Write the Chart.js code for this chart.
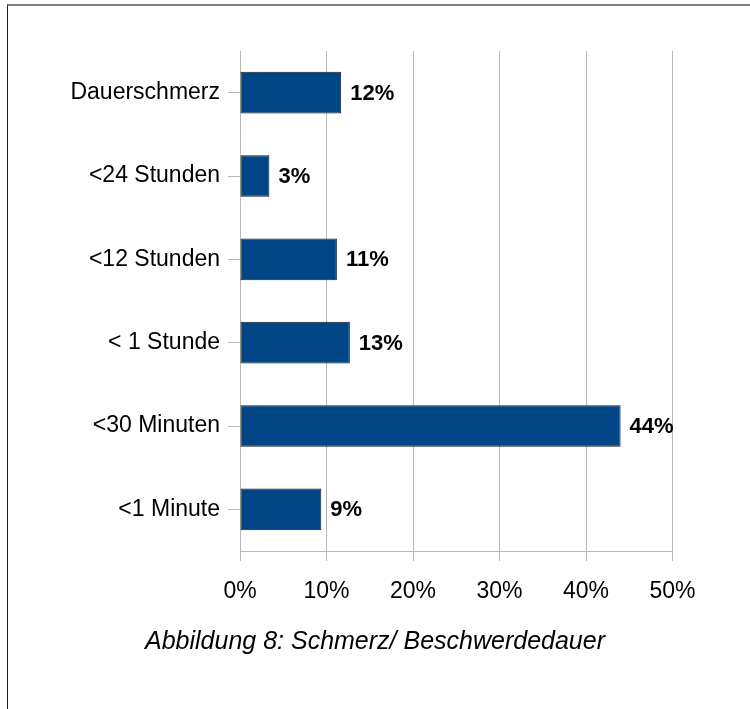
<!DOCTYPE html>
<html>
<head>
<meta charset="utf-8">
<script src="https://cdn.jsdelivr.net/npm/chart.js@4.4.1/dist/chart.umd.min.js"></script>
<style>
  html, body { margin: 0; padding: 0; background: #fff; }
  #wrap { position: relative; width: 750px; height: 709px; overflow: hidden; }
  #rahmen { position: absolute; left: 7px; top: 4px; width: 900px; height: 900px;
            border-top: 2px solid #808080; border-left: 1px solid #222; }
  #grafik { position: absolute; left: 0; top: 0; }
</style>
</head>
<body>
<div id="wrap">
  <div id="rahmen"></div>
  <canvas id="grafik" width="750" height="709"></canvas>
</div>
<script>
const kategorien = ["Dauerschmerz", "<24 Stunden", "<12 Stunden", "< 1 Stunde", "<30 Minuten", "<1 Minute"];
const anteile = [11.7, 3.4, 11.2, 12.7, 44.0, 9.4];
const achsenTicks = [0, 10, 20, 30, 40, 50];
const titel = "Abbildung 8: Schmerz/ Beschwerdedauer";

const schrift = "'Liberation Sans', Arial, sans-serif";

// Prozentwerte rechts neben den Balken
const wertBeschriftung = {
    id: "wertBeschriftung",
    afterDatasetsDraw(chart) {
        const ctx = chart.ctx;
        const meta = chart.getDatasetMeta(0);
        ctx.save();
        ctx.font = "bold 22px " + schrift;
        ctx.fillStyle = "#000";
        ctx.textAlign = "left";
        ctx.textBaseline = "middle";
        meta.data.forEach((bar, i) => {
            ctx.fillText(Math.round(anteile[i]) + "%", bar.x + 9, bar.y + 1);
        });
        ctx.restore();
    }
};

// Bildunterschrift mittig unter der Grafik
const bildunterschrift = {
    id: "bildunterschrift",
    afterDraw(chart) {
        const ctx = chart.ctx;
        ctx.save();
        ctx.font = "italic 25px " + schrift;
        ctx.fillStyle = "#000";
        ctx.textAlign = "center";
        ctx.textBaseline = "middle";
        ctx.fillText(titel, chart.width / 2, 642);
        ctx.restore();
    }
};

const ctx = document.getElementById("grafik").getContext("2d");

new Chart(ctx, {
    type: "bar",
    data: {
        labels: kategorien,
        datasets: [{
            data: anteile,
            backgroundColor: "#004586",
            borderColor: "#1a1a1a",
            borderWidth: 1,
            borderSkipped: false,
            barPercentage: 0.5,
            categoryPercentage: 1
        }]
    },
    options: {
        indexAxis: "y",
        responsive: false,
        animation: false,
        layout: {
            padding: { left: 0, top: 51, right: 77.5, bottom: 709 - 551 - 76 }
        },
        scales: {
            x: {
                min: 0,
                max: 50,
                afterBuildTicks: (scale) => {
                    scale.ticks = achsenTicks.map(v => ({ value: v }));
                },
                afterFit: (scale) => { scale.height = 76; },
                grid: {
                    color: "#b8b8b8",
                    lineWidth: 1,
                    tickLength: 10
                },
                border: { color: "#b8b8b8" },
                ticks: {
                    color: "#000",
                    font: { family: schrift, size: 23 },
                    padding: 17,
                    maxRotation: 0,
                    callback: (v) => v + "%"
                }
            },
            y: {
                afterFit: (scale) => { scale.width = 240; },
                grid: {
                    offset: false,
                    drawOnChartArea: false,
                    color: "#b8b8b8",
                    tickLength: 12
                },
                border: { display: false },
                ticks: {
                    color: "#000",
                    font: { family: schrift, size: 23 },
                    padding: 8
                }
            }
        },
        plugins: {
            legend: { display: false },
            tooltip: { enabled: false },
            title: { display: false }
        }
    },
    plugins: [wertBeschriftung, bildunterschrift]
});
</script>
</body>
</html>
